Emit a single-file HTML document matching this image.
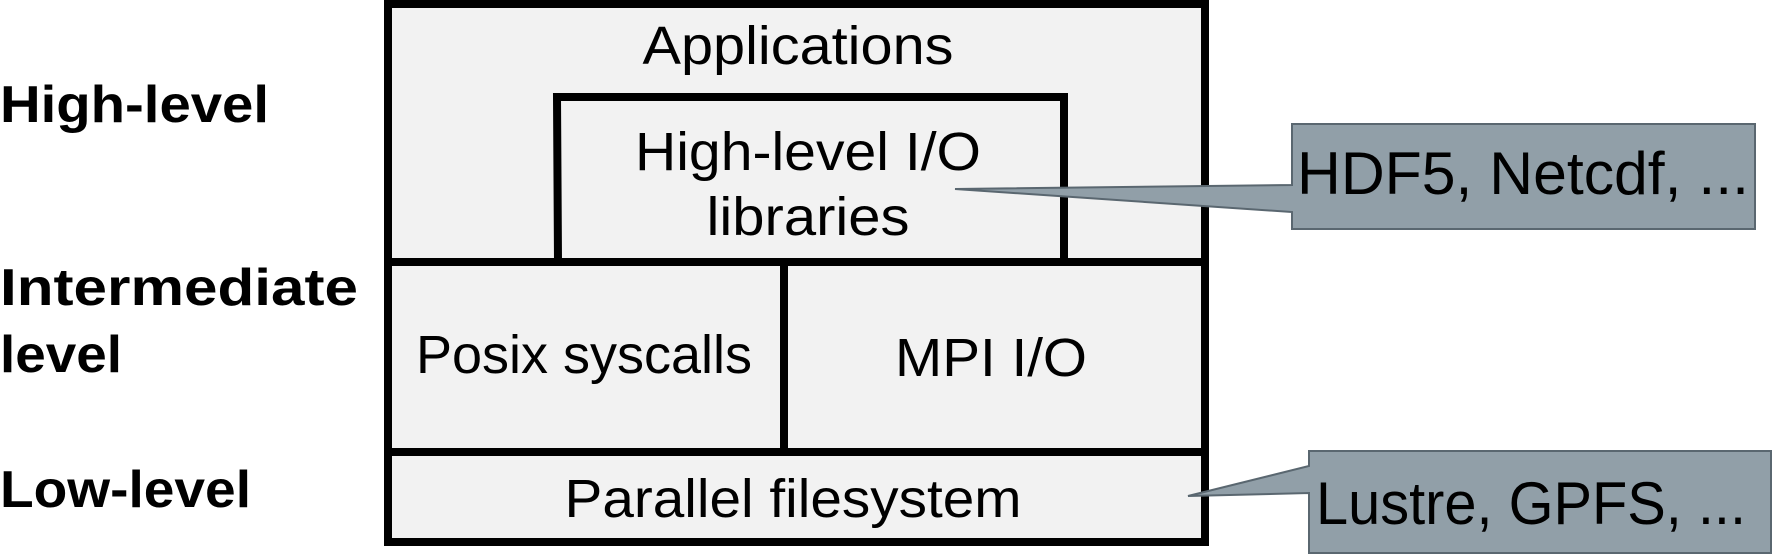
<!DOCTYPE html>
<html><head><meta charset="utf-8"><style>html,body{margin:0;padding:0;background:#fff;width:1772px;height:554px;overflow:hidden}</style></head>
<body>
<svg width="1772" height="554" viewBox="0 0 1772 554" xmlns="http://www.w3.org/2000/svg" font-family="Liberation Sans, DejaVu Sans, sans-serif">
<rect x="388" y="4" width="817" height="538" fill="#f2f2f2" stroke="#000" stroke-width="8"/>
<line x1="384" y1="262" x2="1209" y2="262" stroke="#000" stroke-width="8"/>
<line x1="384" y1="452" x2="1209" y2="452" stroke="#000" stroke-width="8"/>
<line x1="784" y1="262" x2="784" y2="452" stroke="#000" stroke-width="8"/>
<polyline points="558,262 557,97 1064,97 1064,262" fill="none" stroke="#000" stroke-width="8"/>
<g font-size="54" fill="#000" text-anchor="middle">
<text x="798" y="64" textLength="311" lengthAdjust="spacingAndGlyphs">Applications</text>
<text x="808" y="170" textLength="346" lengthAdjust="spacingAndGlyphs">High-level I/O</text>
<text x="808" y="235" textLength="203" lengthAdjust="spacingAndGlyphs">libraries</text>
<text x="584" y="373" textLength="336" lengthAdjust="spacingAndGlyphs">Posix syscalls</text>
<text x="991" y="376" textLength="192" lengthAdjust="spacingAndGlyphs">MPI I/O</text>
<text x="793" y="517" textLength="457" lengthAdjust="spacingAndGlyphs">Parallel filesystem</text>
</g>
<g font-size="52" font-weight="bold" fill="#000">
<text x="0" y="122" textLength="269" lengthAdjust="spacingAndGlyphs">High-level</text>
<text x="0" y="305" textLength="358" lengthAdjust="spacingAndGlyphs">Intermediate</text>
<text x="0" y="372" textLength="122" lengthAdjust="spacingAndGlyphs">level</text>
<text x="0" y="507" textLength="251" lengthAdjust="spacingAndGlyphs">Low-level</text>
</g>
<path d="M1292,124 L1755,124 L1755,229 L1292,229 L1292,212 L955,189 L1292,185 Z" fill="#919fa8" stroke="#5a6770" stroke-width="2"/>
<path d="M1309,451 L1771,451 L1771,553 L1309,553 L1309,493 L1188,496 L1309,466 Z" fill="#919fa8" stroke="#5a6770" stroke-width="2"/>
<g font-size="60" fill="#000">
<text x="1297" y="194" textLength="452" lengthAdjust="spacingAndGlyphs">HDF5, Netcdf, ...</text>
<text x="1316" y="524" textLength="430" lengthAdjust="spacingAndGlyphs">Lustre, GPFS, ...</text>
</g>
</svg>
</body></html>
